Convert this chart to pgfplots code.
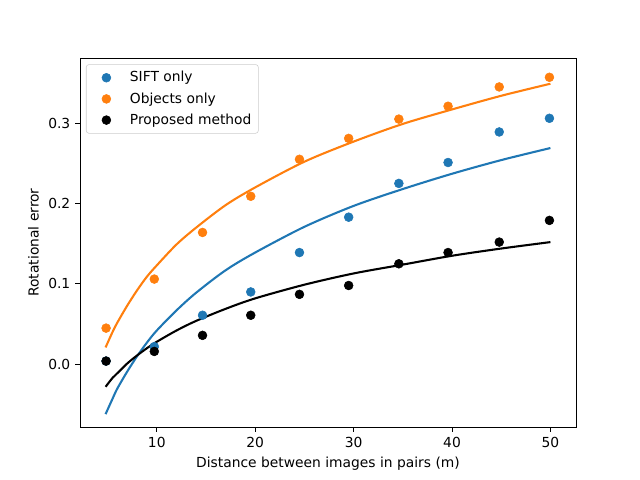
\documentclass[border=0pt]{standalone}
\usepackage{pgfplots}
\pgfplotsset{compat=1.18}
\usepackage{fontspec}
\setmainfont{DejaVu Sans}
\definecolor{mblue}{HTML}{1F77B4}
\definecolor{morange}{HTML}{FF7F0E}
\begin{document}
\begin{tikzpicture}
\useasboundingbox (-0.8in,-0.53in) rectangle (5.6in,4.27in);
\begin{axis}[
  scale only axis, width=4.96in, height=3.69in,
  at={(0,0)}, anchor=south west,
  xmin=2.2, xmax=52.6, ymin=-0.078, ymax=0.381,
  xtick={10,20,30,40,50}, ytick={0,0.1,0.2,0.3},
  yticklabel style={/pgf/number format/.cd, fixed, fixed zerofill, precision=1},
  /pgf/number format/assume math mode=true,
  tick align=outside, tick pos=left,
  major tick length=3.5pt,
  tick style={black, line width=0.6pt},
  axis line style={line width=0.6pt},
  ticklabel style={font=\fontsize{10}{12}\selectfont},
  label style={font=\fontsize{10}{12}\selectfont},
  xlabel={Distance between images in pairs (m)},
  ylabel={Rotational error},
  legend style={at={(0.012,0.983)}, anchor=north west, draw=black!20, rounded corners=2pt,
    font=\fontsize{10}{12}\selectfont, row sep=2.2pt, inner xsep=3pt, inner ysep=3pt},
  legend cell align=left,
  legend image code/.code={\path (0,0) (0.92cm,0); \draw[#1] plot coordinates {(0.4cm,0cm)};},
]
\addplot[only marks, mark=*, mark size=3.2pt, color=mblue] coordinates {
(4.85,0.004) (9.75,0.022) (14.65,0.061) (19.55,0.090) (24.5,0.139) (29.5,0.183) (34.6,0.225) (39.6,0.251) (44.8,0.289) (49.9,0.306)};
\addlegendentry{SIFT only}
\addplot[only marks, mark=*, mark size=3.2pt, color=morange] coordinates {
(4.85,0.045) (9.75,0.106) (14.65,0.164) (19.55,0.209) (24.5,0.255) (29.5,0.281) (34.6,0.305) (39.6,0.321) (44.8,0.345) (49.9,0.357)};
\addlegendentry{Objects only}
\addplot[only marks, mark=*, mark size=3.2pt, color=black] coordinates {
(4.85,0.004) (9.75,0.016) (14.65,0.036) (19.55,0.061) (24.5,0.087) (29.5,0.098) (34.6,0.125) (39.6,0.139) (44.8,0.152) (49.9,0.179)};
\addlegendentry{Proposed method}
\addplot[forget plot, smooth, mblue, line width=1.5pt] coordinates {
(4.8,-0.062) (5.5,-0.043) (6,-0.030) (7,-0.009) (8,0.010) (9,0.027) (10,0.042) (12,0.067) (14,0.089) (17,0.117) (20,0.139) (25,0.171) (30,0.197) (35,0.218) (40,0.237) (45,0.254) (50,0.269)};
\addplot[forget plot, smooth, morange, line width=1.5pt] coordinates {
(4.8,0.021) (5.5,0.040) (6,0.052) (7,0.073) (8,0.092) (9,0.109) (10,0.123) (12,0.149) (14,0.170) (17,0.198) (20,0.220) (25,0.252) (30,0.277) (35,0.299) (40,0.317) (45,0.334) (50,0.349)};
\addplot[forget plot, smooth, black, line width=1.5pt] coordinates {
(4.8,-0.028) (5.5,-0.017) (6,-0.011) (7,0.001) (8,0.011) (9,0.020) (10,0.028) (12,0.042) (14,0.054) (17,0.069) (20,0.082) (25,0.099) (30,0.113) (35,0.124) (40,0.135) (45,0.144) (50,0.152)};
\end{axis}
\end{tikzpicture}
\end{document}
